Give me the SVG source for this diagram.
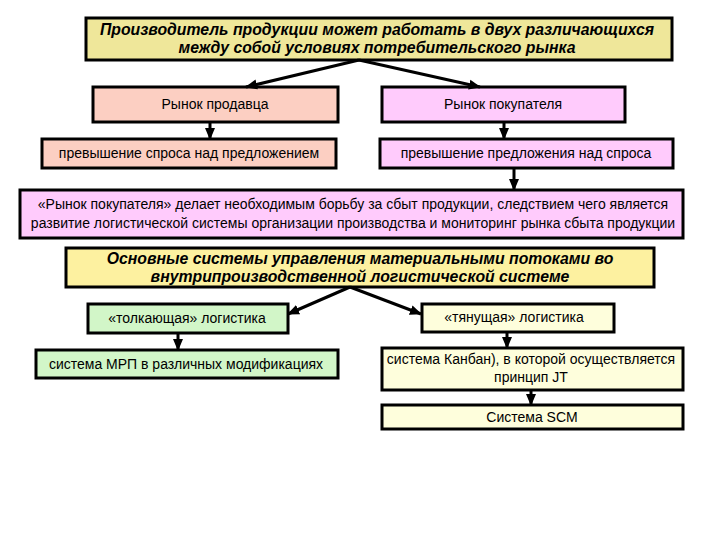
<svg xmlns="http://www.w3.org/2000/svg" width="720" height="540" viewBox="0 0 720 540">
<defs>
<style>
.box{stroke:#000;stroke-width:3}
.t{font-family:"Liberation Sans",Arial,sans-serif;font-size:14px;fill:#000;text-anchor:middle}
.h{font-family:"Liberation Sans",Arial,sans-serif;font-size:15.8px;font-weight:bold;font-style:italic;fill:#000;text-anchor:middle}
.c{stroke:#000;stroke-width:3;fill:none;marker-end:url(#ah)}
.y1{fill:#efe79a}.y2{fill:#fdf1a0}.sa{fill:#fccfc2}.pk{fill:#ffcbfc}.gr{fill:#d2f6c8}.cr{fill:#fefedc}
</style>
<marker id="ah" markerUnits="userSpaceOnUse" markerWidth="12" markerHeight="12" viewBox="0 0 12 12" refX="11" refY="6" orient="auto">
<path d="M0,1 L12,6 L0,11 z" fill="#000"/>
</marker>
</defs>
<rect width="720" height="540" fill="#fff"/>
<g id="n-producer">
<rect class="box y1" x="86" y="18" width="586" height="42"/>
<text class="h" x="377" y="35">Производитель продукции может работать в двух различающихся</text>
<text class="h" x="377" y="53">между собой условиях потребительского рынка</text>
</g>
<g id="n-seller">
<rect class="box sa" x="93" y="87" width="245" height="35"/>
<text class="t" x="215" y="109">Рынок продавца</text>
</g>
<g id="n-buyer">
<rect class="box pk" x="382" y="87" width="243" height="35"/>
<text class="t" x="503" y="109">Рынок покупателя</text>
</g>
<g id="n-demand">
<rect class="box sa" x="42" y="139" width="294" height="29"/>
<text class="t" x="189" y="158">превышение спроса над предложением</text>
</g>
<g id="n-supply">
<rect class="box pk" x="380" y="139" width="293" height="29"/>
<text class="t" x="526" y="158">превышение предложения над спроса</text>
</g>
<g id="n-struggle">
<rect class="box pk" x="20" y="190" width="663" height="48"/>
<text class="t" x="353" y="209">«Рынок покупателя» делает необходимым борьбу за сбыт продукции, следствием чего является</text>
<text class="t" x="353" y="228">развитие логистической системы организации производства и мониторинг рынка сбыта продукции</text>
</g>
<g id="n-systems">
<rect class="box y2" x="66" y="248" width="588" height="39"/>
<text class="h" x="360" y="264">Основные системы управления материальными потоками во</text>
<text class="h" x="360" y="282">внутрипроизводственной логистической системе</text>
</g>
<g id="n-push">
<rect class="box gr" x="88" y="304" width="200" height="29"/>
<text class="t" x="187" y="323">«толкающая» логистика</text>
</g>
<g id="n-pull">
<rect class="box cr" x="422" y="304" width="192" height="28"/>
<text class="t" x="514" y="322">«тянущая» логистика</text>
</g>
<g id="n-mrp">
<rect class="box gr" x="36" y="350" width="302" height="28"/>
<text class="t" x="186" y="369">система МРП в различных модификациях</text>
</g>
<g id="n-kanban">
<rect class="box cr" x="382" y="348" width="301" height="42"/>
<text class="t" x="531" y="364">система Канбан), в которой осуществляется</text>
<text class="t" x="531" y="382">принцип JT</text>
</g>
<g id="n-scm">
<rect class="box cr" x="382" y="405" width="301" height="24"/>
<text class="t" x="532" y="422">Система SCM</text>
</g>
<g id="connectors">
<line class="c" x1="359" y1="60" x2="246" y2="87"/>
<line class="c" x1="359" y1="60" x2="480" y2="87"/>
<line class="c" x1="210" y1="122" x2="210" y2="139"/>
<line class="c" x1="504" y1="122" x2="504" y2="139"/>
<line class="c" x1="514" y1="168" x2="514" y2="190"/>
<line class="c" x1="350" y1="287" x2="288" y2="314"/>
<line class="c" x1="350" y1="287" x2="421" y2="314"/>
<line class="c" x1="178" y1="333" x2="178" y2="350"/>
<line class="c" x1="507" y1="332" x2="507" y2="348"/>
<line class="c" x1="531" y1="390" x2="531" y2="405"/>
</g>
</svg>
